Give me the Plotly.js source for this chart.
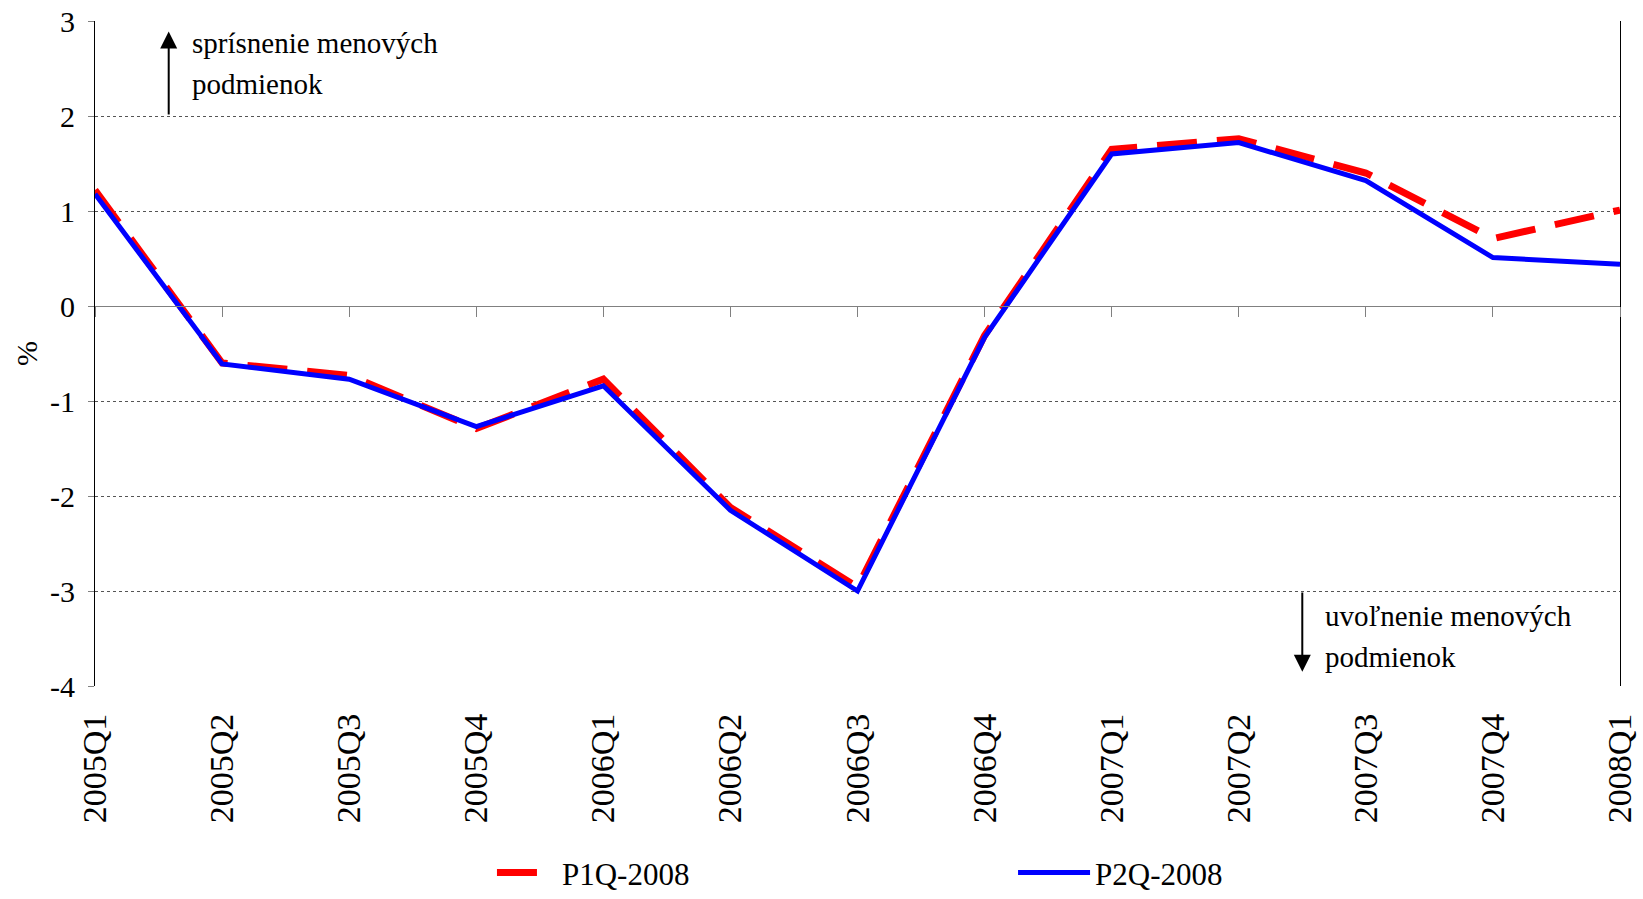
<!DOCTYPE html>
<html>
<head>
<meta charset="utf-8">
<script src="https://cdn.plot.ly/plotly-3.0.1.min.js"></script>
<style>
html,body{margin:0;padding:0;background:#fff;}
#chart{width:1643px;height:899px;}
</style>
</head>
<body>
<div id="chart"></div>
<script>
const categories = ['2005Q1','2005Q2','2005Q3','2005Q4','2006Q1','2006Q2','2006Q3','2006Q4','2007Q1','2007Q2','2007Q3','2007Q4','2008Q1'];
const p1q2008 = [1.22, -0.60, -0.73, -1.29, -0.77, -2.12, -2.96, -0.31, 1.65, 1.76, 1.40, 0.71, 1.01];
const p2q2008 = [1.18, -0.61, -0.77, -1.27, -0.84, -2.15, -3.00, -0.33, 1.60, 1.72, 1.32, 0.51, 0.44];
const seriesNames = ['P1Q-2008', 'P2Q-2008'];
const yTicks = [-4, -3, -2, -1, 0, 1, 2, 3];
const yTickLabels = ['-4', '-3', '-2', '-1', '0', '1', '2', '3'];

const FONT = 'Liberation Serif, Times New Roman, serif';

const traces = [
  {
    type: 'scatter', mode: 'lines', name: seriesNames[0],
    x: categories, y: p1q2008,
    xaxis: 'x', yaxis: 'y',
    line: {color: '#ff0000', width: 7, dash: '40px,20px'},
    legend: 'legend'
  },
  {
    type: 'scatter', mode: 'lines', name: seriesNames[1],
    x: categories, y: p2q2008,
    xaxis: 'x2', yaxis: 'y',
    line: {color: '#0000ff', width: 5},
    legend: 'legend2'
  }
];

const layout = {
  width: 1643, height: 899,
  margin: {l: 95, r: 23, t: 21, b: 213, autoexpand: false},
  paper_bgcolor: '#ffffff', plot_bgcolor: '#ffffff',
  font: {family: FONT, color: '#000000', size: 28},
  showlegend: true,
  xaxis: {
    type: 'category', categoryorder: 'array', categoryarray: categories,
    range: [0, categories.length - 1],
    showgrid: false, zeroline: false, showline: false, automargin: false,
    ticks: '', tickangle: -90,
    ticklabelstandoff: 20,
    tickfont: {family: FONT, size: 34, color: '#000'}
  },
  xaxis2: {
    type: 'category', categoryorder: 'array', categoryarray: categories,
    overlaying: 'x', anchor: 'free', position: 4 / 7,
    range: [0, categories.length - 1],
    showgrid: false, zeroline: false,
    showline: true, linecolor: '#808080', linewidth: 1,
    ticks: 'outside', ticklen: 10, tickcolor: '#808080', tickwidth: 1,
    showticklabels: false
  },
  yaxis: {
    range: [-4, 3], tickvals: yTicks, ticktext: yTickLabels,
    showgrid: true, gridcolor: '#555555', griddash: 'dot', gridwidth: 1,
    zeroline: false, automargin: false,
    showline: true, mirror: true, linecolor: '#000000', linewidth: 1,
    ticks: 'outside', ticklen: 6, tickcolor: '#808080',
    ticklabelstandoff: 7,
    tickfont: {family: FONT, size: 30, color: '#000'},
    title: {text: '%', font: {family: FONT, size: 30, color: '#000'}, standoff: 3}
  },
  legend: {
    orientation: 'h', x: 0.2603, xanchor: 'left', y: -0.281, yanchor: 'middle',
    font: {family: FONT, size: 31, color: '#000'},
    itemwidth: 60, bgcolor: 'rgba(0,0,0,0)'
  },
  legend2: {
    orientation: 'h', x: 0.602, xanchor: 'left', y: -0.281, yanchor: 'middle',
    font: {family: FONT, size: 31, color: '#000'},
    itemwidth: 72, bgcolor: 'rgba(0,0,0,0)'
  },
  annotations: [
    {x: 0.58, y: 2.89, ax: 0.58, ay: 2.0, xref: 'x', yref: 'y', axref: 'x', ayref: 'y',
     text: '', showarrow: true, arrowhead: 2, arrowsize: 1.7, arrowwidth: 2, arrowcolor: '#000'},
    {x: 9.5, y: -3.85, ax: 9.5, ay: -3.0, xref: 'x', yref: 'y', axref: 'x', ayref: 'y',
     text: '', showarrow: true, arrowhead: 2, arrowsize: 1.7, arrowwidth: 2, arrowcolor: '#000'},
    {x: 0.75, y: 2.77, xref: 'x', yref: 'y', xanchor: 'left', yanchor: 'middle', showarrow: false,
     text: 'sprísnenie menových', font: {family: FONT, size: 29, color: '#000'}},
    {x: 0.75, y: 2.34, xref: 'x', yref: 'y', xanchor: 'left', yanchor: 'middle', showarrow: false,
     text: 'podmienok', font: {family: FONT, size: 29, color: '#000'}},
    {x: 9.66, y: -3.26, xref: 'x', yref: 'y', xanchor: 'left', yanchor: 'middle', showarrow: false,
     text: 'uvoľnenie menových', font: {family: FONT, size: 29, color: '#000'}},
    {x: 9.66, y: -3.69, xref: 'x', yref: 'y', xanchor: 'left', yanchor: 'middle', showarrow: false,
     text: 'podmienok', font: {family: FONT, size: 29, color: '#000'}}
  ]
};

Plotly.newPlot('chart', traces, layout, {displayModeBar: false, staticPlot: true});
</script>
</body>
</html>
